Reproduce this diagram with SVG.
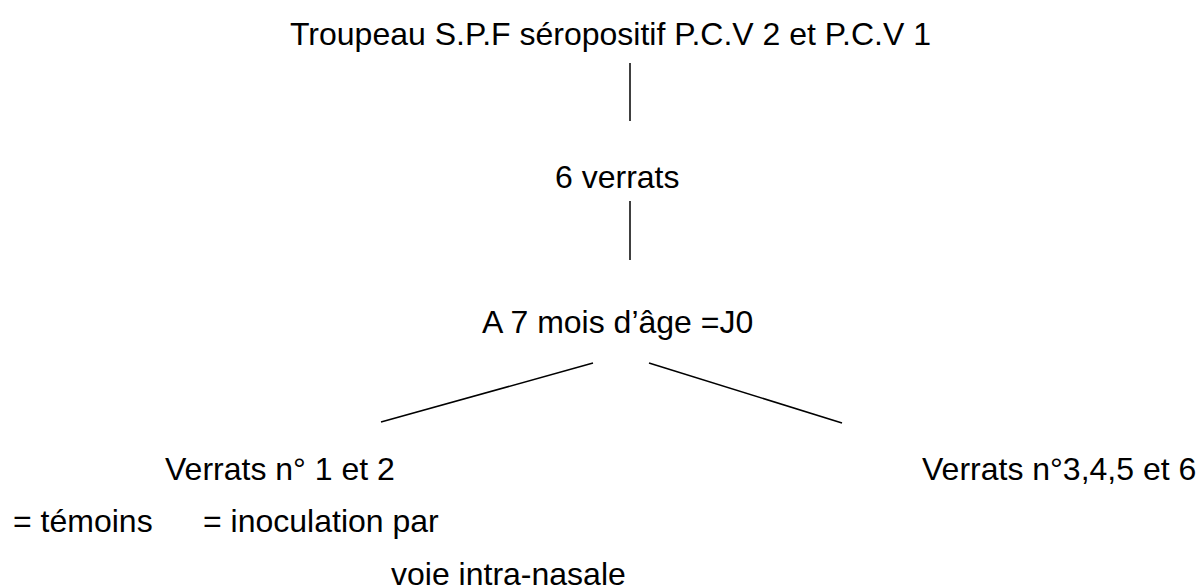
<svg xmlns="http://www.w3.org/2000/svg" width="1200" height="588" viewBox="0 0 1200 588">
<style>
text{font-family:"Liberation Sans",Arial,sans-serif;font-size:32px;fill:#000}
.c line{stroke:#000;stroke-width:1.5;fill:none}
</style>
<rect width="1200" height="588" fill="#fff"/>
<g id="n-troupeau"><text x="290" y="45">Troupeau S.P.F séropositif P.C.V 2 et P.C.V 1</text></g>
<g id="n-6verrats"><text x="555" y="188">6 verrats</text></g>
<g id="n-j0"><text x="482" y="333">A 7 mois d’âge =J0</text></g>
<g id="n-verrats12"><text x="165" y="480">Verrats n° 1 et 2</text></g>
<g id="n-verrats3456"><text x="922" y="480">Verrats n°3,4,5 et 6</text></g>
<g id="n-temoins"><text x="13" y="532">= témoins</text></g>
<g id="n-inoculation"><text x="203" y="532">= inoculation par</text><text x="391" y="585">voie intra-nasale</text></g>
<g id="connectors" class="c">
<line x1="630" y1="63" x2="630" y2="121"/>
<line x1="630" y1="201" x2="630" y2="260"/>
<line x1="593" y1="363" x2="381" y2="422"/>
<line x1="649" y1="363" x2="842" y2="423"/>
</g>
</svg>
